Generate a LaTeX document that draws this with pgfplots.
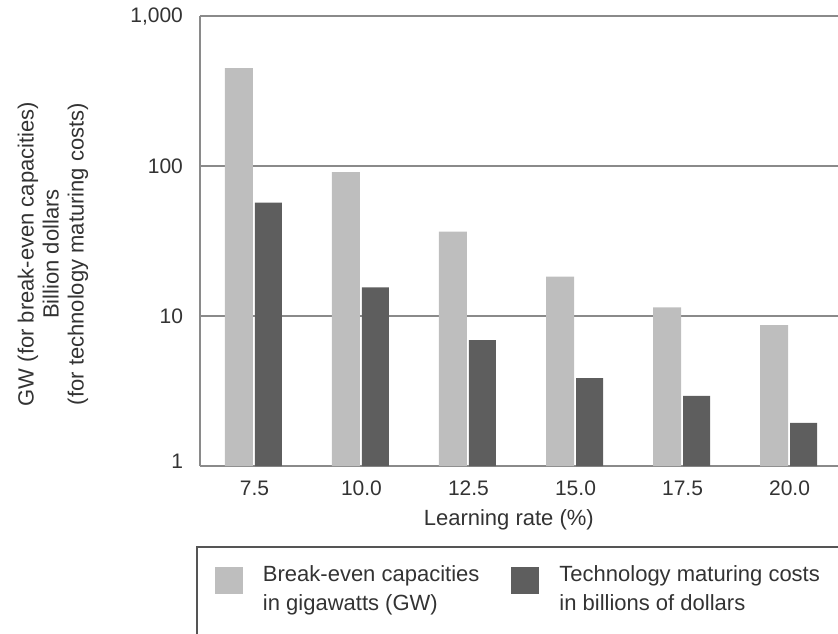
\documentclass[border=0pt]{standalone}
\usepackage{fontspec}
\setmainfont{Liberation Sans}
\usepackage{pgfplots}
\pgfplotsset{compat=1.18}
\definecolor{lightbar}{HTML}{BEBEBE}
\definecolor{darkbar}{HTML}{5E5E5E}
\definecolor{axgray}{HTML}{8A8A8A}
\definecolor{legframe}{HTML}{555555}
\definecolor{txt}{HTML}{333333}
\begin{document}
\begin{tikzpicture}
\useasboundingbox (-100pt,-83.5pt) rectangle (319pt,233pt);
\begin{axis}[
  at={(0pt,0pt)}, anchor=south west,
  width=319pt, height=225pt, scale only axis,
  ymode=log, ymin=1, ymax=1000,
  xmin=-0.509, xmax=5.453,
  ybar,
  xtick={0,1,2,3,4,5},
  xticklabels={7.5,10.0,12.5,15.0,17.5,20.0},
  ytick={1,10,100,1000},
  yticklabels={\raisebox{4.5pt}{1},10,100,{\raisebox{-2pt}{1,000}}},
  yminorticks=false,
  major tick length=0pt,
  ymajorgrids,
  grid style={axgray, line width=1pt},
  axis x line*=box, axis y line*=left,
  axis line style={axgray, line width=1pt, -},
  tick label style={font=\fontsize{10.5}{12}\selectfont, text=txt},
  yticklabel style={anchor=east, xshift=-5pt},
  xticklabel style={anchor=base, yshift=-14.5pt},
  xlabel={Learning rate (\%)},
  ylabel={GW (for break-even capacities)\\Billion dollars\\(for technology maturing costs)},
  every axis x label/.style={at={(axis description cs:0.484,-0.12)}, anchor=center, font=\fontsize{11}{12.5}\selectfont, text=txt},
  every axis y label/.style={at={(axis description cs:-0.2304,0.471)}, rotate=90, anchor=center, align=center, font=\fontsize{11}{12.5}\selectfont, text=txt},
  legend columns=2,
  legend cell align=left,
  legend style={at={(axis description cs:0.0235,-0.222)}, anchor=north west, draw=none, fill=none, inner sep=0pt, outer sep=0pt, row sep=0pt, column sep=10pt, font=\fontsize{11}{14.2}\selectfont, text=txt, nodes={inner sep=0pt, align=left}, /tikz/every even column/.append style={column sep=16pt}},
  legend image code/.code={\fill[#1] (0pt,-2pt) rectangle (14pt,11.5pt);},
]
\addplot[fill=lightbar, draw=none, bar width=14pt, bar shift=-7.75pt] coordinates {(0,450) (1,91) (2,36.5) (3,18.3) (4,11.4) (5,8.7)};
\addplot[fill=darkbar, draw=none, bar width=13.5pt, bar shift=7pt] coordinates {(0,57) (1,15.5) (2,6.9) (3,3.85) (4,2.93) (5,1.94)};
\legend{Break-even capacities\\in gigawatts (GW), Technology maturing costs\\in billions of dollars}
\end{axis}
\draw[legframe, line width=1pt] (-1.5pt,-84pt) -- (-1.5pt,-40.5pt) -- (320pt,-40.5pt);
\end{tikzpicture}
\end{document}
